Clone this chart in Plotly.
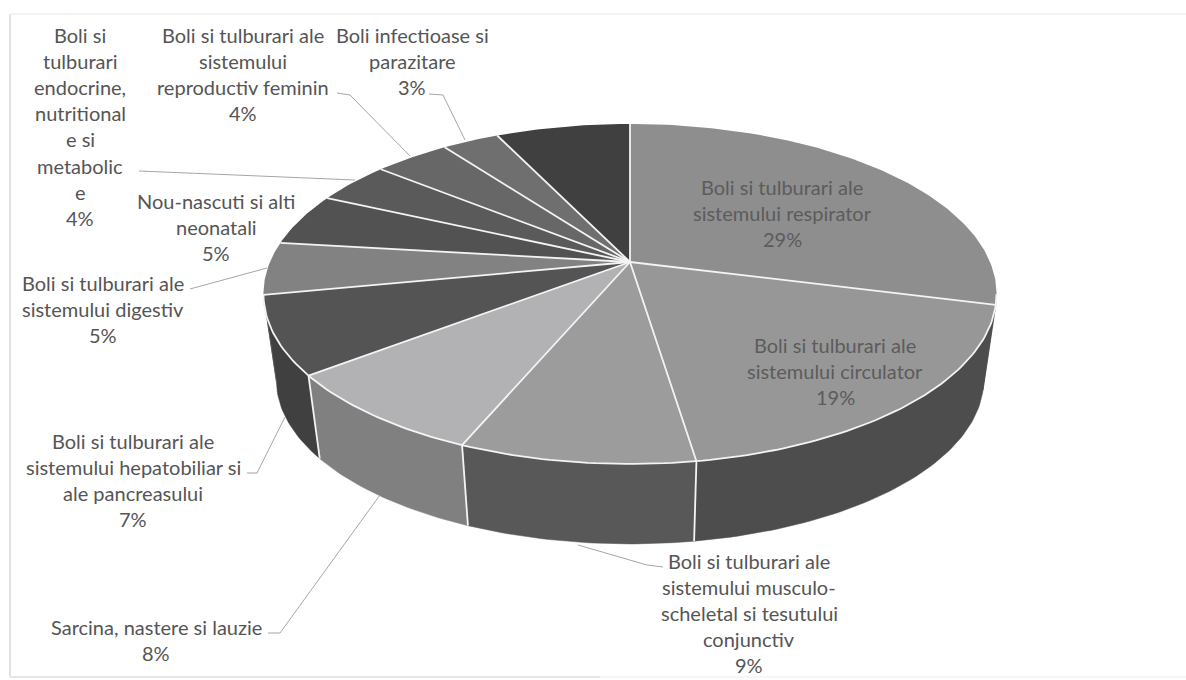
import math
import plotly.graph_objects as go

# Data (shares; printed labels are the rounded values)
categories = [
    "Boli si tulburari ale sistemului respirator",
    "Boli si tulburari ale sistemului circulator",
    "Boli si tulburari ale sistemului musculo-scheletal si tesutului conjunctiv",
    "Sarcina, nastere si lauzie",
    "Boli si tulburari ale sistemului hepatobiliar si ale pancreasului",
    "Boli si tulburari ale sistemului digestiv",
    "Nou-nascuti si alti neonatali",
    "Boli si tulburari endocrine, nutritionale si metabolice",
    "Boli si tulburari ale sistemului reproductiv feminin",
    "Boli infectioase si parazitare",
    "Altele",
]
values = [29, 18.6, 8.7, 8.2, 7.4, 5, 5, 4, 4, 3, 7.1]

label_lines = [
    ["Boli si tulburari ale", "sistemului respirator"],
    ["Boli si tulburari ale", "sistemului circulator"],
    ["Boli si tulburari ale", "sistemului musculo-", "scheletal si tesutului", "conjunctiv"],
    ["Sarcina, nastere si lauzie"],
    ["Boli si tulburari ale", "sistemului hepatobiliar si", "ale pancreasului"],
    ["Boli si tulburari ale", "sistemului digestiv"],
    ["Nou-nascuti si alti", "neonatali"],
    ["Boli si", "tulburari", "endocrine,", "nutritional", "e si", "metabolic", "e"],
    ["Boli si tulburari ale", "sistemului", "reproductiv feminin"],
    ["Boli infectioase si", "parazitare"],
    None,
]
# centre x, first-line y of each label block
label_pos = [(782, 187), (835, 345), (749, 561), (156, 627), (133, 441),
             (103, 283), (216, 201), (80, 35), (243, 35), (412, 35), None]
LINE_STEP = 26.1

top_colors = ["#8e8e8e", "#979797", "#9c9c9c", "#b2b2b5", "#545454", "#828282",
              "#525252", "#5a5a5a", "#676767", "#6f6f6f", "#404040"]
side_colors = ["#4a4a4a", "#4d4d4d", "#585858", "#808080", "#404040", "#555555",
               "#333333", "#333333", "#333333", "#333333", "#333333"]

leaders = [
    [(337, 93), (350, 95), (410, 156)],
    [(429, 94), (443, 95), (465, 140)],
    [(139, 171), (355, 180)],
    [(190, 289), (267, 268)],
    [(247, 473), (257, 473), (285, 417)],
    [(268, 633), (280, 633), (380, 495)],
    [(663, 567), (647, 565), (578, 545)],
]

# Perspective projection of the disc on the page
AX, AY = 630, 262      # apex of the slices
A, B, K = 360, 164, 0.188
BOT_Y, BOT_S = 349, 0.965  # lower face
vis_lo = math.degrees(math.acos(-K))
vis_hi = 360 - vis_lo


def proj(deg, bottom=False):
    t = math.radians(deg)
    x, y = math.sin(t), math.cos(t)
    w = 1 + K * y
    X, Y = A * x / w, B * y / w
    if bottom:
        return AX + BOT_S * X, BOT_Y - BOT_S * Y
    return AX + X, AY - Y


def arc(a0, a1, bottom=False):
    n = max(2, int(abs(a1 - a0)) + 2)
    return [proj(a0 + (a1 - a0) * i / (n - 1), bottom) for i in range(n)]


fig = go.Figure()
total = sum(values)
edges = [0]
for v in values:
    edges.append(edges[-1] + v / total * 360)

WHITE = dict(color="#f4f4f4", width=1.8)

# walls
for i, _ in enumerate(values):
    a0, a1 = max(edges[i], vis_lo), min(edges[i + 1], vis_hi)
    if a1 <= a0:
        continue
    pts = arc(a0, a1) + arc(a1, a0, True)
    pts.append(pts[0])
    fig.add_trace(go.Scatter(x=[p[0] for p in pts], y=[p[1] for p in pts], mode="lines",
                             fill="toself", fillcolor=side_colors[i],
                             line=dict(color=side_colors[i], width=0.5), hoverinfo="skip"))
    # white separator at the slice's far end, except right at the silhouette
    if vis_lo + 6 < a0 < vis_hi - 6:
        s = [proj(a0), proj(a0, True)]
        fig.add_trace(go.Scatter(x=[p[0] for p in s], y=[p[1] for p in s], mode="lines",
                                 line=WHITE, hoverinfo="skip"))

# top faces
for i, name in enumerate(categories):
    pts = [(AX, AY)] + arc(edges[i], edges[i + 1]) + [(AX, AY)]
    fig.add_trace(go.Scatter(x=[p[0] for p in pts], y=[p[1] for p in pts], mode="lines",
                             fill="toself", fillcolor=top_colors[i], name=name,
                             line=dict(color=top_colors[i], width=0), hoverinfo="name"))
for i in range(len(values)):
    pts = [(AX, AY), proj(edges[i])]
    fig.add_trace(go.Scatter(x=[p[0] for p in pts], y=[p[1] for p in pts], mode="lines",
                             line=WHITE, hoverinfo="skip"))
front = arc(vis_lo, vis_hi)
fig.add_trace(go.Scatter(x=[p[0] for p in front], y=[p[1] for p in front], mode="lines",
                         line=WHITE, hoverinfo="skip"))

# leader lines
for path in leaders:
    fig.add_trace(go.Scatter(x=[p[0] for p in path], y=[p[1] for p in path], mode="lines",
                             line=dict(color="#a6a6a6", width=1), hoverinfo="skip"))

# labels: one annotation per line to get the original line spacing
annotations = []
for i, lines in enumerate(label_lines):
    if lines is None:
        continue
    cx, y0 = label_pos[i]
    dark = i < 2
    for j, t in enumerate(lines + [f"{round(values[i])}%"]):
        annotations.append(dict(x=cx, y=y0 + j * LINE_STEP, text=t, showarrow=False,
                                xanchor="center", yanchor="middle",
                                font=dict(family="Lato", size=20,
                                          color="#5c5c5c" if dark else "#555555")))

frame = [
    dict(x0=10, y0=14, x1=10, y1=677, color="#e2e2e2"),
    dict(x0=10, y0=14, x1=1186, y1=14, color="#f3f3f3"),
    dict(x0=10, y0=677, x1=600, y1=677, color="#e6e6e6"),
    dict(x0=600, y0=677, x1=1186, y1=677, color="#f6f6f6"),
]
fig.update_layout(
    width=1186, height=680, margin=dict(l=0, r=0, t=0, b=0),
    paper_bgcolor="white", plot_bgcolor="white", showlegend=False,
    xaxis=dict(range=[0, 1186], visible=False, fixedrange=True),
    yaxis=dict(range=[680, 0], visible=False, fixedrange=True),
    annotations=annotations,
    shapes=[dict(type="line", x0=f["x0"], y0=f["y0"], x1=f["x1"], y1=f["y1"],
                 line=dict(color=f["color"], width=2), layer="below") for f in frame],
)
fig.write_html("out.html", post_script="document.body.style.margin='0';",
               config={"displayModeBar": False})
